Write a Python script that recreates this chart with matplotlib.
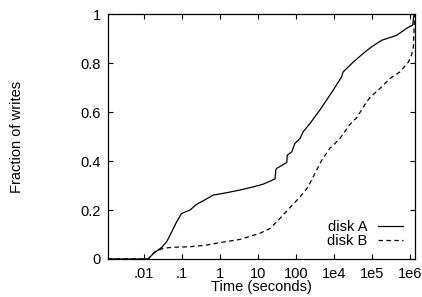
import numpy as np
import matplotlib
matplotlib.use("Agg")
import matplotlib.pyplot as plt

plt.rcParams['font.family'] = ['Liberation Sans', 'DejaVu Sans']

# log10 of time
logt_a = [-2.96, -1.89, -1.75, -1.53, -1.40, -1.27, -1.14, -1.01, -0.79, -0.61,
          -0.44, -0.18, 0.18, 0.53, 0.88, 1.14, 1.32, 1.45, 1.47, 1.49, 1.71,
          1.76, 1.77, 1.89, 1.97, 2.11, 2.19, 2.37, 2.63, 2.98, 3.20, 3.24,
          3.51, 3.77, 3.99, 4.26, 4.65, 4.87, 5.0, 5.07, 5.10, 5.12]
frac_a = [0, 0, 0.023, 0.048, 0.071, 0.111, 0.152, 0.186, 0.2, 0.224,
          0.238, 0.261, 0.271, 0.282, 0.295, 0.306, 0.318, 0.328, 0.365, 0.37, 0.39,
          0.395, 0.424, 0.438, 0.472, 0.493, 0.52, 0.554, 0.609, 0.69, 0.744, 0.764,
          0.805, 0.84, 0.867, 0.894, 0.914, 0.938, 0.951, 0.955, 0.99, 1.0]

logt_b = [-2.96, -1.89, -1.71, -1.49, -1.23, -0.79, -0.35, 0.0, 0.53, 1.05,
          1.32, 1.58, 1.84, 2.11, 2.32, 2.50, 2.68, 2.89, 2.98, 3.16, 3.42,
          3.60, 3.86, 3.95, 4.21, 4.47, 4.74, 4.96, 5.04, 5.09, 5.11, 5.12]
frac_b = [0, 0, 0.03, 0.044, 0.048, 0.05, 0.057, 0.067, 0.08, 0.105,
          0.125, 0.166, 0.21, 0.254, 0.295, 0.35, 0.404, 0.452, 0.465, 0.493, 0.55,
          0.578, 0.642, 0.66, 0.697, 0.737, 0.765, 0.805, 0.833, 0.867, 0.95, 1.0]

tick_logs = [-2, -1, 0, 1, 2, 3, 4, 5]
tick_labels = ['.01', '.1', '1', '10', '100', '1e4', '1e5', '1e6']

fs = 10.5

fig = plt.figure(figsize=(4.22, 2.97), dpi=100)
ax = fig.add_axes([107.5/422, 1 - 259/297, 307/422, (259 - 14.3)/297])

ax.plot(10**np.array(logt_a), frac_a, color='black', lw=0.9, label='disk A')
ax.plot(10**np.array(logt_b), frac_b, color='black', lw=0.9,
        dashes=(3.6, 2.7), label='disk B')

ax.set_xscale('log')
ax.set_xlim(10**-2.96, 10**5.12)
ax.set_ylim(0, 1)
ax.set_xticks(10.0**np.array(tick_logs))
ax.set_xticklabels(tick_labels)
ax.minorticks_off()
ax.set_yticks([0, 0.2, 0.4, 0.6, 0.8, 1])
ax.set_yticklabels(['0', '0.2', '0.4', '0.6', '0.8', '1'])
ax.tick_params(direction='in', top=True, right=True, length=3.5, width=0.8,
               labelsize=fs)
ax.tick_params(axis='x', pad=6)
ax.tick_params(axis='y', pad=5)
for s in ax.spines.values():
    s.set_linewidth(0.9)

ax.set_xlabel('Time (seconds)', fontsize=fs, labelpad=-1)
fig.text(17/422, 1 - 136.5/297, 'Fraction of writes', rotation=90,
         ha='center', va='center', fontsize=fs)

ax.legend(loc='lower right', bbox_to_anchor=(0.9635, 0.045), frameon=False,
          markerfirst=False, fontsize=fs, handlelength=1.75, handletextpad=0.7,
          labelspacing=0.0, borderpad=0, borderaxespad=0)

fig.savefig('out.png', dpi=100)
